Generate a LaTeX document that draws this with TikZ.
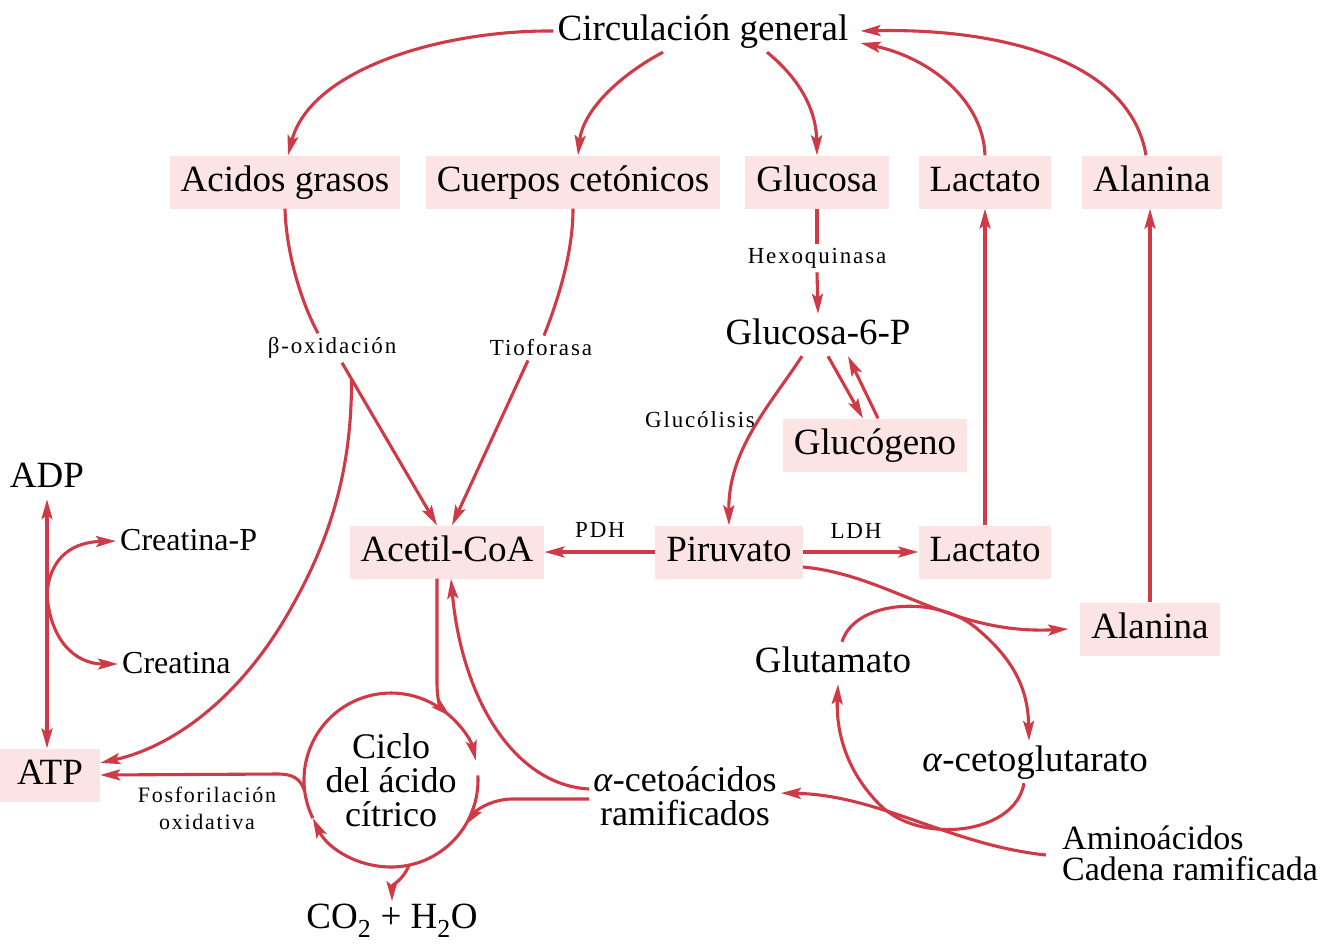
\documentclass[tikz,border=0pt]{standalone}
\usepackage{fontspec}
\setmainfont{Liberation Serif}
\newfontfamily\smallfam{Liberation Serif}[LetterSpace=8]
\usetikzlibrary{arrows.meta,calc}
\definecolor{boxpink}{RGB}{251,228,227}
\definecolor{arrred}{RGB}{206,58,70}
\newcommand{\mainf}{\fontsize{37}{33}\selectfont}
\newcommand{\smallf}{\smallfam\fontsize{23}{27}\selectfont}
\begin{document}
\begin{tikzpicture}[x=1pt,y=-1pt,
  ln/.style={draw=arrred,line width=3.1pt},
  arr/.style={ln,-{Stealth[length=20pt,width=11pt,inset=4pt]}},
  box/.style={fill=boxpink,font=\mainf,text height=26pt,text depth=8pt,inner xsep=11pt,inner ysep=9.5pt},
  lbl/.style={font=\mainf,text height=26pt,text depth=8pt,inner sep=4pt},
  sm/.style={font=\smallf,inner sep=4pt}]
\useasboundingbox[fill=white] (0,0) rectangle (1335,946);

% nodes
\node[lbl] (circ) at (703,31) {Circulación general};
\node[box] (acidos) at (285,182) {Acidos grasos};
\node[box] (cuerpos) at (573,182) {Cuerpos cetónicos};
\node[box] (glucosa) at (817,182) {Glucosa};
\node[box] (lactatoA) at (985,182) {Lactato};
\node[box] (alaninaA) at (1152,182) {Alanina};
\node[sm] (hexo) at (817,258) {Hexoquinasa};
\node[lbl] (g6p) at (818,335) {Glucosa-6-P};
\node[sm] (boxid) at (332,348) {β-oxidación};
\node[sm] (tiof) at (541,348) {Tioforasa};
\node[sm] (glucol) at (700,420) {Glucólisis};
\node[box] (glucogeno) at (875,445) {Glucógeno};
\node[lbl] (adp) at (47,478) {ADP};
\node[lbl,anchor=west,font=\fontsize{32}{32}\selectfont] (creP) at (116,541) {Creatina-P};
\node[lbl,anchor=west,font=\fontsize{32}{32}\selectfont] (creat) at (118,664) {Creatina};
\node[box,minimum width=100pt] (atp) at (50,775) {ATP};
\node[box] (acetil) at (447,552) {Acetil-CoA};
\node[sm] (pdh) at (600,530) {PDH};
\node[box] (piruvato) at (729,552) {Piruvato};
\node[sm] (ldh) at (856,531) {LDH};
\node[box] (lactatoB) at (985,552) {Lactato};
\node[box] (alaninaB) at (1150,629) {Alanina};
\node[lbl] (glutamato) at (833,663) {Glutamato};
\node[lbl] (cetoglut) at (1035,762) {\textit{α}-cetoglutarato};
\node[font=\fontsize{36}{34}\selectfont,align=center,inner sep=4pt] (alfaceto) at (685,796) {\textit{α}-cetoácidos\\ramificados};
\node[font=\fontsize{34}{31}\selectfont,align=left,anchor=west,inner sep=4pt] (amino) at (1058,853) {Aminoácidos\\Cadena ramificada};
\node[font=\fontsize{36}{34}\selectfont,align=center,circle,minimum size=174pt,inner sep=0pt] (ciclo) at (391,780) {Ciclo\\del ácido\\cítrico};
\node[font=\smallfam\fontsize{22}{27}\selectfont,align=center,inner sep=2pt] (fosfo) at (207,808) {Fosforilación\\oxidativa};
\node[font=\mainf,inner sep=3pt] (co2) at (392,921) {CO\textsubscript{2} + H\textsubscript{2}O};

% circulation
\draw[arr] (circ.west) .. controls (440,30) and (310,70) .. ([xshift=3pt]acidos.north);
\draw[arr] ([xshift=-40pt]circ.south) .. controls (620,75) and (583,110) .. ([xshift=5pt]cuerpos.north);
\draw[arr] ([xshift=64pt]circ.south) .. controls (795,75) and (816,105) .. (glucosa.north);
\draw[arr] (lactatoA.north) .. controls (983,100) and (930,58) .. ([xshift=8pt,yshift=-12pt]circ.east);
\draw[arr] ([xshift=-6pt]alaninaA.north) .. controls (1130,60) and (1000,28) .. ([xshift=8pt]circ.east);

% glucose
\draw[ln] (glucosa.south) -- (hexo.north);
\draw[arr] (hexo.south) -- (g6p.north);
\draw[arr] ([xshift=-16pt]g6p.south) .. controls (770,405) and (728,450) .. (piruvato.north);
\draw[arr] ([xshift=10pt]g6p.south) -- ([xshift=-12pt]glucogeno.north);
\draw[arr] ([xshift=3pt]glucogeno.north) -- ([xshift=30pt]g6p.south);

% fatty acids, ketone bodies
\draw[ln] (acidos.south) .. controls (286,250) and (300,300) .. ([xshift=-14pt]boxid.north);
\draw[arr] ([xshift=10pt]boxid.south) -- ([xshift=-10pt]acetil.north);
\coordinate (atpbr) at ($([xshift=10pt]boxid.south)!0.1!([xshift=-10pt]acetil.north)$);
\draw[arr] (atpbr) .. controls (352,470) and (330,540) .. (290,610) .. controls (245,690) and (180,745) .. ([yshift=12pt]atp.east);
\draw[ln] (cuerpos.south) .. controls (573,250) and (560,295) .. ([xshift=3pt]tiof.north);
\draw[arr] ([xshift=-13pt]tiof.south) -- ([xshift=5pt]acetil.north);

% pyruvate
\draw[arr] (lactatoB.north) -- (lactatoA.south);
\draw[arr] (alaninaB.north) -- (alaninaB.north |- alaninaA.south);
\draw[arr] (piruvato.west) -- (acetil.east);
\draw[arr] (piruvato.east) -- (lactatoB.west);
\draw[arr] ([yshift=-15pt]piruvato.east) .. controls (890,575) and (950,635) .. ([xshift=-12pt]alaninaB.west);

% glutamate cycle
\draw[arr] ([xshift=9pt]glutamato.north) .. controls (855,600) and (935,595) .. (975,627) .. controls (1015,660) and (1028,690) .. ([xshift=-6pt]cetoglut.north);
\draw[arr] ([xshift=-11pt]cetoglut.south) .. controls (1015,835) and (920,845) .. (880,805) .. controls (845,770) and (836,730) .. ([xshift=5pt]glutamato.south);
\draw[arr] ([xshift=-12pt,yshift=-2pt]amino.west) .. controls (950,845) and (880,795) .. ([yshift=3pt]alfaceto.east);

% citric acid cycle
\draw[arr] ([shift={(-206:87)}]ciclo.center) arc[start angle=-206, end angle=-13, radius=87];
\draw[arr] ([shift={(-3:87)}]ciclo.center) arc[start angle=-3, end angle=154, radius=87];
\draw[arr] ([xshift=-10pt]acetil.south) -- ++(0,105) .. controls +(0,15) and +(-10,-9) .. ([shift={(-47:87)}]ciclo.center);
\draw[arr] ([yshift=7pt]alfaceto.west) .. controls (515,785) and (462,700) .. ([xshift=4pt]acetil.south);
\draw[arr] ([yshift=-3pt]alfaceto.west) -- (512,799) .. controls (495,799) and (478,808) .. ([shift={(31:87)}]ciclo.center);
\draw[arr] ([shift={(-187:87)}]ciclo.center) .. controls (300,778) and (292,774) .. (278,774) -- (atp.east);
\draw[arr] ([shift={(78:87)}]ciclo.center) .. controls (402,882) and (392,884) .. (co2.north);

% ADP / ATP / creatine
\draw[ln,{Stealth[length=20pt,width=11pt,inset=4pt]}-{Stealth[length=20pt,width=11pt,inset=4pt]}] (adp.south) -- (adp.south |- atp.north);
\coordinate (crbr) at ($(adp.south)!0.38!(adp.south |- atp.north)$);
\draw[arr] (crbr) .. controls (50,555) and (75,542) .. (creP.west);
\draw[arr] (crbr) .. controls (50,640) and (75,664) .. (creat.west);
\end{tikzpicture}
\end{document}
